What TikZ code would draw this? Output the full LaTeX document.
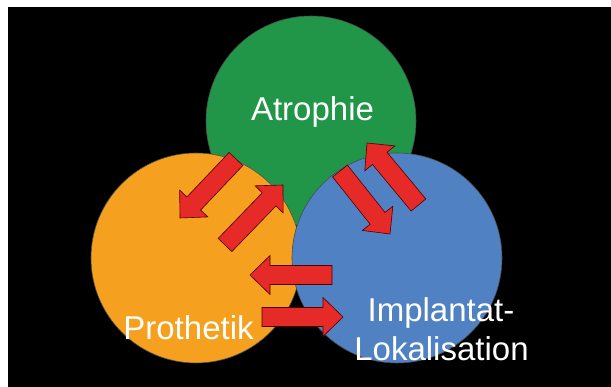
\documentclass[tikz,border=0pt]{standalone}
\usepackage{fontspec}
\setmainfont{Liberation Sans}
\usetikzlibrary{calc}
\definecolor{cgreen}{RGB}{33,150,72}
\definecolor{corange}{RGB}{245,160,31}
\definecolor{cblue}{RGB}{80,130,195}
\definecolor{arrred}{RGB}{230,42,40}
\newcommand\blockarrow[2]{%
  \path ($(#2)!20pt!(#1)$) coordinate (bh);
  \filldraw[arr] ($(#1)!9.5pt!90:(#2)$) -- ($(bh)!9.5pt!90:(#2)$) -- ($(bh)!19.5pt!90:(#2)$) -- (#2)
     -- ($(bh)!19.5pt!-90:(#2)$) -- ($(bh)!9.5pt!-90:(#2)$) -- ($(#1)!9.5pt!-90:(#2)$) -- cycle;}
\begin{document}
\begin{tikzpicture}[x=1pt,y=-1pt,
  circ/.style={circle, draw=black!70, line width=0.6pt, minimum size=210pt, inner sep=0pt},
  arr/.style={fill=arrred, draw=black!70!red, line width=0.6pt, line join=miter},
  lbl/.style={text=white, font=\fontsize{33}{39}\selectfont, anchor=base, inner sep=0pt}]
\fill[white] (0,0) rectangle (611,387);
\fill[black] (8,7) rectangle (611,387);
\useasboundingbox (0,0) rectangle (611,387);
\node[circ, fill=cgreen] (atro) at (311,121) {};
\node[circ, fill=corange] (proth) at (196,258) {};
\node[circ, fill=cblue] (impl) at (397,258) {};
\coordinate (a1s) at (236,159); \coordinate (a1e) at (180,218);
\coordinate (a2s) at (225,245); \coordinate (a2e) at (283,185);
\coordinate (a3s) at (340,171); \coordinate (a3e) at (390,234);
\coordinate (a4s) at (418.5,205); \coordinate (a4e) at (367,143);
\coordinate (a5s) at (332,275); \coordinate (a5e) at (250,275);
\coordinate (a6s) at (262,317); \coordinate (a6e) at (343,317);
\blockarrow{a1s}{a1e}
\blockarrow{a2s}{a2e}
\blockarrow{a3s}{a3e}
\blockarrow{a4s}{a4e}
\blockarrow{a5s}{a5e}
\blockarrow{a6s}{a6e}
\node[lbl] (tatro) at (312.5,120.7) {Atrophie};
\node[lbl] (tproth) at (188.5,340) {Prothetik};
\node[lbl] (timpl1) at (441,322) {Implantat-};
\node[lbl] (timpl2) at (441.5,361) {Lokalisation};
\end{tikzpicture}
\end{document}
